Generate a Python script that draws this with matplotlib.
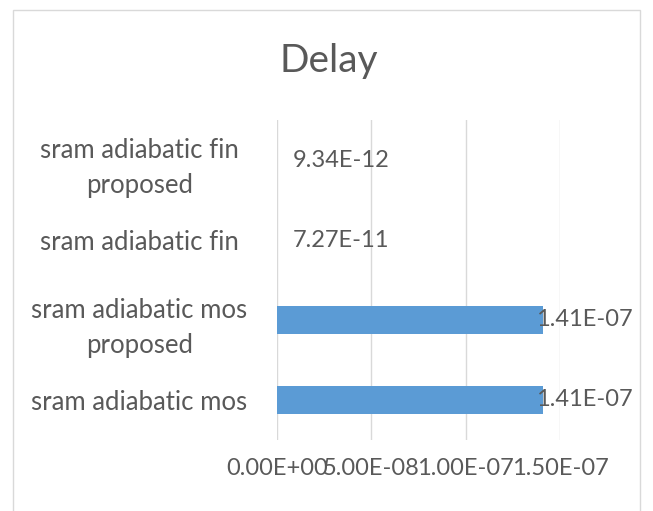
import matplotlib.pyplot as plt
from matplotlib.patches import Rectangle

# ========== 数据 ==========
categories = [
    "sram adiabatic mos",
    "sram adiabatic mos\nproposed",
    "sram adiabatic fin",
    "sram adiabatic fin\nproposed",
]
delay = [1.41e-07, 1.41e-07, 7.27e-11, 9.34e-12]
value_labels = ["1.41E-07", "1.41E-07", "7.27E-11", "9.34E-12"]
xticks = [0.0, 5e-08, 1e-07, 1.5e-07]
xtick_labels = ["0.00E+00", "5.00E-08", "1.00E-07", "1.50E-07"]
title = "Delay"

TEXT = "#595959"
BAR = "#5B9BD5"
GRID = "#D9D9D9"

plt.rcParams['font.family'] = ['Lato', 'DejaVu Sans']

fig = plt.figure(figsize=(6.53, 5.11), dpi=100)
fig.patches.append(Rectangle((13 / 653, -0.05), (640 - 13) / 653, 1.05 - 10 / 511,
                             transform=fig.transFigure, fill=False,
                             edgecolor=GRID, linewidth=1.0))

ax = fig.add_axes([277 / 653, 1 - 440 / 511, (560 - 277) / 653, 320 / 511])

ypos = list(range(len(categories)))
ax.barh(ypos, delay, height=0.34, color=BAR, zorder=3)

ax.set_xlim(0, 1.5e-07)
ax.set_ylim(-0.5, len(categories) - 0.5)
ax.set_xticks(xticks)
ax.set_xticklabels(xtick_labels, fontsize=17, color=TEXT)
ax.set_yticks(ypos)
ax.set_yticklabels(categories, fontsize=18.5, color=TEXT, ha='center',
                   linespacing=1.5)
ax.tick_params(axis='y', length=0, pad=99)
ax.tick_params(axis='x', length=0, pad=13)

for s in ax.spines.values():
    s.set_visible(False)
ax.grid(axis='x', color=GRID, linewidth=1.0, zorder=0)
ax.set_axisbelow(True)

# 数据标签：超出图表区域时往回挪
for i, (v, lab) in enumerate(zip(delay, value_labels)):
    if v > 0.9 * ax.get_xlim()[1]:
        off = -5
    else:
        off = 11
    ax.annotate(lab, xy=(v, i), xytext=(off, 0), textcoords='offset points',
                ha='left', va='center', fontsize=17, color=TEXT)

fig.text(329 / 653, 1 - 61 / 511, title, ha='center', va='center',
         fontsize=28, color=TEXT)

fig.savefig("out.png", dpi=100)
